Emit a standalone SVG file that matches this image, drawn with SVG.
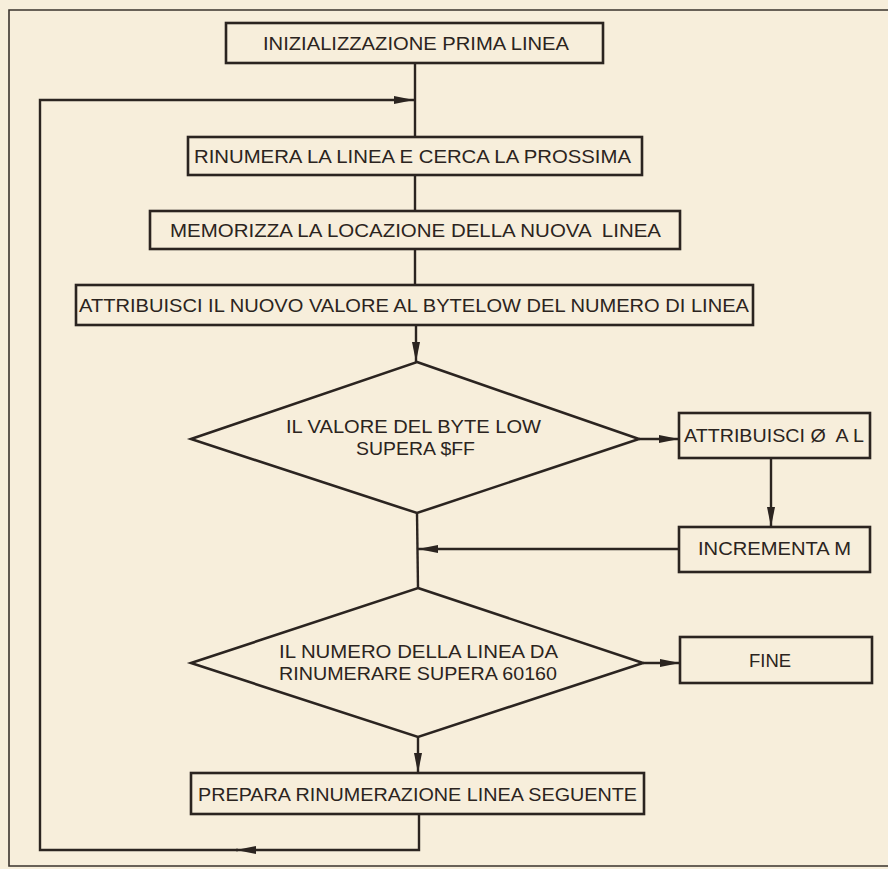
<svg xmlns="http://www.w3.org/2000/svg" width="888" height="869" viewBox="0 0 888 869">
<defs>
<marker id="ah" viewBox="0 0 20 8" markerWidth="20" markerHeight="8" markerUnits="userSpaceOnUse" refX="20" refY="4" orient="auto">
<path d="M0,0 L20,4 L0,8 z" fill="#2b2420"/>
</marker>
<style>
.box{fill:none;stroke:#2b2420;stroke-width:2.6}
.ln{fill:none;stroke:#2b2420;stroke-width:2.4}
.t{font-family:"Liberation Sans",Arial,sans-serif;font-size:18.5px;fill:#2b2420;text-anchor:start}
</style>
</defs>
<rect x="0" y="0" width="888" height="869" fill="#F7EEDB"/>
<path d="M888,10 H9 V866 H888" fill="none" stroke="#3a332d" stroke-width="1.6"/>

<g id="connectors">
<line class="ln" x1="415" y1="63" x2="415" y2="137"/>
<line class="ln" x1="415" y1="175" x2="415" y2="211"/>
<line class="ln" x1="415" y1="249" x2="415" y2="286"/>
<line class="ln" x1="416" y1="325" x2="416" y2="362" marker-end="url(#ah)"/>
<line class="ln" x1="639" y1="439" x2="679" y2="439" marker-end="url(#ah)"/>
<line class="ln" x1="771" y1="458" x2="771" y2="527" marker-end="url(#ah)"/>
<line class="ln" x1="679" y1="549" x2="418" y2="549" marker-end="url(#ah)"/>
<line class="ln" x1="417" y1="513" x2="418" y2="588"/>
<line class="ln" x1="643" y1="663" x2="680" y2="663" marker-end="url(#ah)"/>
<line class="ln" x1="418" y1="737" x2="418" y2="773" marker-end="url(#ah)"/>
<path class="ln" d="M419,815 V850 H236" marker-end="url(#ah)"/>
<path class="ln" d="M238,850 H40 V100 H414" marker-end="url(#ah)"/>
</g>

<g id="n1">
<rect class="box" x="226" y="23" width="377" height="40"/>
<text class="t" x="263" y="50" textLength="306" lengthAdjust="spacingAndGlyphs">INIZIALIZZAZIONE PRIMA LINEA</text>
</g>
<g id="n2">
<rect class="box" x="188" y="137" width="454" height="38"/>
<text class="t" x="194" y="163" textLength="437" lengthAdjust="spacingAndGlyphs">RINUMERA LA LINEA E CERCA LA PROSSIMA</text>
</g>
<g id="n3">
<rect class="box" x="150" y="211" width="530" height="38"/>
<text class="t" x="170" y="237" textLength="491" lengthAdjust="spacingAndGlyphs" xml:space="preserve">MEMORIZZA LA LOCAZIONE DELLA NUOVA  LINEA</text>
</g>
<g id="n4">
<rect class="box" x="76" y="285" width="677" height="40"/>
<text class="t" x="79" y="312" textLength="670" lengthAdjust="spacingAndGlyphs">ATTRIBUISCI IL NUOVO VALORE AL BYTELOW DEL NUMERO DI LINEA</text>
</g>
<g id="d1">
<polygon class="box" points="417,362 639,439 417,513 191,439"/>
<text class="t" x="286" y="433" textLength="255" lengthAdjust="spacingAndGlyphs">IL VALORE DEL BYTE LOW</text>
<text class="t" x="356" y="455" textLength="119" lengthAdjust="spacingAndGlyphs">SUPERA $FF</text>
</g>
<g id="n5">
<rect class="box" x="679" y="413" width="191" height="45"/>
<text class="t" x="684" y="442" textLength="180" lengthAdjust="spacingAndGlyphs" xml:space="preserve">ATTRIBUISCI Ø  A L</text>
</g>
<g id="n6">
<rect class="box" x="679" y="527" width="191" height="45"/>
<text class="t" x="698" y="555" textLength="153" lengthAdjust="spacingAndGlyphs">INCREMENTA M</text>
</g>
<g id="d2">
<polygon class="box" points="418,588 643,663 418,737 191,663"/>
<text class="t" x="279" y="658" textLength="279" lengthAdjust="spacingAndGlyphs">IL NUMERO DELLA LINEA DA</text>
<text class="t" x="279" y="680" textLength="278" lengthAdjust="spacingAndGlyphs">RINUMERARE SUPERA 60160</text>
</g>
<g id="n7">
<rect class="box" x="680" y="637" width="192" height="46"/>
<text class="t" x="749" y="667" textLength="42" lengthAdjust="spacingAndGlyphs">FINE</text>
</g>
<g id="n8">
<rect class="box" x="191" y="773" width="453" height="41"/>
<text class="t" x="198" y="801" textLength="439" lengthAdjust="spacingAndGlyphs">PREPARA RINUMERAZIONE LINEA SEGUENTE</text>
</g>
</svg>
